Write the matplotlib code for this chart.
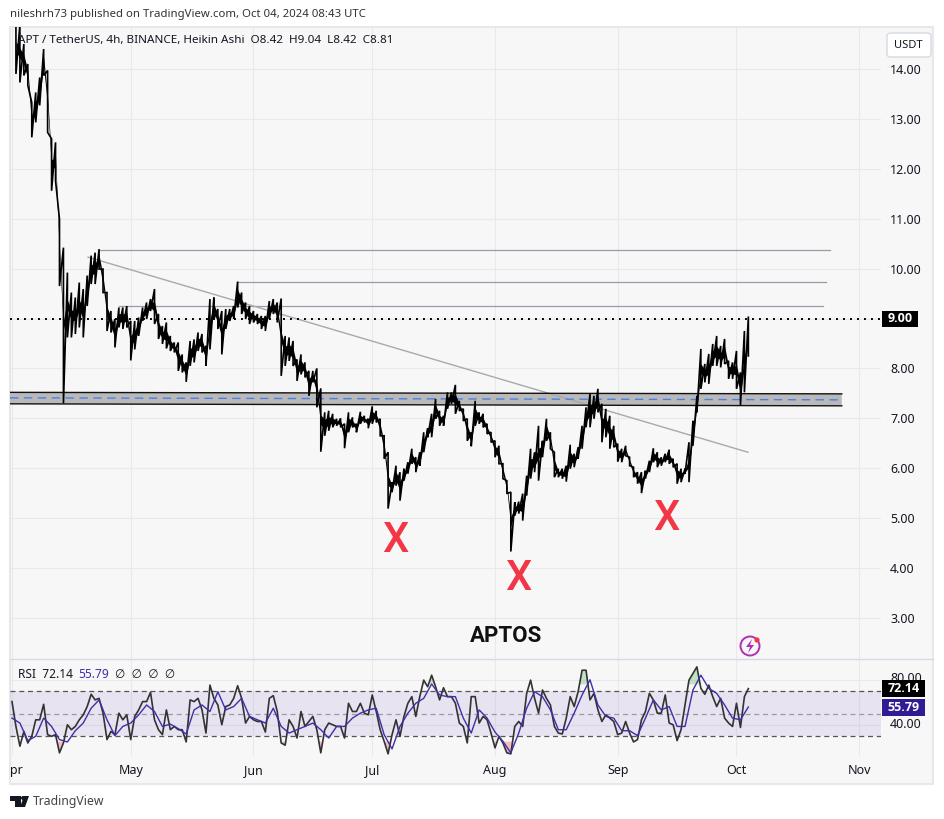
import numpy as np
import matplotlib
matplotlib.use("Agg")
from matplotlib import pyplot as plt
from matplotlib.patches import Rectangle, Polygon, Ellipse, FancyBboxPatch
from matplotlib.transforms import Bbox

plt.rcParams['font.family'] = ['Noto Sans', 'DejaVu Sans']

# days counted from Apr 1
highs = [15.0,14.9,14.5,14.1,13.33,13.53,13.83,14.4,13.97,12.6,
         12.53,10.99,10.42,9.92,9.52,9.42,9.72,9.59,9.86,10.26,
         10.32,10.39,9.99,9.52,9.15,8.99,9.22,9.22,9.25,8.95,
         8.95,9.02,9.22,9.32,9.39,9.59,9.09,8.85,8.92,8.65,
         8.52,8.52,8.28,8.12,8.55,8.58,8.72,8.69,8.45,9.39,
         9.42,9.19,9.15,9.19,9.19,9.25,9.74,9.52,9.32,9.25,
         9.15,9.09,9.05,9.05,9.35,9.39,9.32,9.40,8.65,8.62,
         8.55,8.18,8.28,8.12,7.95,7.95,8.0,7.6,7.12,7.15,
         7.09,6.99,7.0,6.89,7.12,7.02,6.89,7.13,7.05,6.99,
         7.24,7.15,6.99,6.65,6.32,5.72,6.05,5.92,5.99,6.12,
         6.39,6.22,6.32,6.72,6.8,7.09,7.39,7.15,7.05,7.52,
         7.52,7.67,7.35,7.19,6.99,6.72,7.35,7.12,7.09,6.89,
         6.72,6.55,6.45,6.09,5.75,5.52,5.32,5.33,5.49,5.85,
         6.39,6.32,6.85,6.55,6.99,6.72,6.32,5.99,5.99,6.05,
         6.47,6.29,6.42,6.85,7.22,7.49,7.45,7.59,7.29,7.19,
         7.05,6.85,6.49,6.39,6.45,6.22,6.02,5.92,5.92,5.95,
         6.15,6.4,6.32,6.22,6.29,6.37,6.19,6.09,5.99,5.99,
         6.52,6.95,7.45,8.39,8.09,8.29,8.49,8.65,8.45,8.59,
         8.15,8.12,8.35,7.92,8.75,9.04]
lows = [13.9,13.73,13.87,13.67,12.63,12.93,13.27,13.87,12.73,11.56,
        11.76,9.65,7.30,8.62,8.62,8.69,8.82,8.62,9.25,9.69,
        9.69,9.99,9.52,8.75,8.72,8.42,8.82,8.79,8.82,8.16,
        8.38,8.65,8.95,8.99,9.15,8.89,8.59,8.49,8.40,8.35,
        8.32,7.95,7.92,7.73,8.05,8.12,8.35,8.32,8.05,8.38,
        8.99,8.79,8.28,8.79,8.95,8.99,9.22,9.09,8.99,8.89,
        8.92,8.89,8.79,8.75,8.99,9.09,8.92,7.85,8.05,8.15,
        8.05,7.75,7.88,7.82,7.45,7.72,7.22,6.33,6.65,6.75,
        6.82,6.85,6.82,6.4,6.72,6.82,6.72,6.89,6.92,6.8,
        6.89,6.92,6.65,6.19,5.19,5.52,5.65,5.35,5.75,5.89,
        6.09,5.92,6.05,6.32,6.62,6.62,6.99,6.85,6.85,7.19,
        7.29,7.09,7.15,6.95,6.55,6.44,6.85,6.89,6.82,6.69,
        6.52,6.22,6.09,5.79,5.49,4.33,5.05,5.09,4.95,5.45,
        5.79,5.92,5.75,6.22,6.55,6.39,5.82,5.82,5.79,5.73,
        5.99,6.02,6.19,6.39,6.82,6.82,6.99,7.12,6.52,6.62,
        6.39,6.42,6.13,6.12,6.25,6.05,5.82,5.69,5.5,5.79,
        5.92,6.12,6.02,6.05,6.12,6.09,6.02,5.69,5.72,5.89,
        5.72,6.45,7.12,7.59,7.72,7.69,8.05,8.05,8.02,8.09,
        7.79,7.79,7.59,7.25,7.52,8.25]

rsi = [60.6,38.5,20.9,34.1,23.8,29.7,44.4,44.4,58.2,31.2,
       29.7,31.2,15,23.8,40,35.6,38.5,44.4,48.8,56.2,
       67.1,62.1,63.5,50.3,26.8,34.1,31.2,50.3,44.4,48.8,
       26.8,47.4,53.2,60.6,60.6,68.8,44.4,35.6,31.2,53.2,
       35.6,38.5,35.6,35.6,24.7,62.1,60.6,63.5,53.2,32.6,
       75.3,63.5,57.6,40,56.2,57.6,63.5,74.7,63.5,41.5,
       47.4,44.4,42.9,42.9,33.5,63.5,65.9,51.8,23.8,21.8,
       44.4,38.5,28.2,51.8,38.5,42.9,47.4,35.6,15,35.6,
       41.5,40,38.5,38.5,28.2,59.1,51.8,51.8,59.1,50.3,
       48.8,66.5,51.8,35.6,25.3,14.1,31.2,44.4,29.7,47.4,
       59.1,65,47.4,65,79.7,73.8,84.1,73.8,62.1,72.9,
       65,65,59.1,41.5,38.5,23.8,65,65,41.5,47.4,
       44.4,32.6,19.4,29.7,23.8,15,14.1,38.5,42.9,38.5,
       67.9,79.7,63.5,50.3,70.9,63.5,57.6,38.5,32.6,31.8,
       45.9,65,56.2,69.4,88.5,88.5,62.1,67.9,53.2,42.9,
       48.8,45.9,42.9,31.2,32.6,42.9,32.6,24.7,26.8,44.4,
       51.8,67.9,62.1,50.3,50.3,66.5,41.5,40,25.9,35.6,
       57.6,79.7,85.6,91.5,72.4,67.1,75.3,65,56.2,63.5,
       45.9,41.5,38.5,59.1,37.6,65,72.14]
# rsi moving average, read every 2 days
rsi_ma = [45.9,41.5,25.9,29.7,45.9,38.5,26.8,24.7,34.7,41.5,
          54.7,62.1,44.4,30.3,38.5,41.5,48.8,57.6,51.8,38.5,
          40.6,36.5,31.8,53.2,57.6,51.8,69.4,53.2,56.2,63.5,
          47.4,44.4,41.5,54.7,38.5,32.6,35.6,38.5,41.5,35.6,
          28.2,38.5,38.5,45.9,50.3,53.2,54.7,31.2,18.5,38.5,
          50.3,59.1,63.5,76.2,66.5,65,65,45.9,32.6,53.2,
          45.9,33.5,25.3,15,32.6,54.7,69.4,65,53.2,35.6,
          35.6,50.3,66.5,80,57.6,47.4,45.9,34.7,34.7,30.3,
          45.9,62.1,53.2,56.2,38.5,38.5,70.9,84.1,72.4,67.9,
          57.6,45.9,44.4,55.79]

price_ticks = [3,4,5,6,7,8,9,10,11,12,13,14]
month_days = [0,30,61,91,122,153,183,214]
month_labels = ["Apr","May","Jun","Jul","Aug","Sep","Oct","Nov"]

# resistance lines: start day, end day, price
resist_start = [21.7,56.8,27.0]
resist_end = [206.6,205.6,204.8]
resist_price = [10.37,9.73,9.25]
trend_days = [19.2,185.9]
trend_price = [10.23,6.32]
zone_days = [-0.5,209.6]
zone_top = [7.52,7.49]
zone_bottom = [7.29,7.25]
zone_mid = [7.41,7.37]

W, H = 945, 819
TEXT = "#131722"
GRID = "#e9e9ea"

def fx(x):
    return x / W

def fy(y):
    return 1 - y / H

def make_axes(left, top, right, bottom):
    return fig.add_axes([fx(left), fy(bottom), (right - left) / W, (bottom - top) / H])

def circle(x, y, r, **kw):
    fig.add_artist(Ellipse((fx(x), fy(y)), 2 * r / W, 2 * r / H, transform=fig.transFigure, **kw))

fig = plt.figure(figsize=(W / 100, H / 100), dpi=100, facecolor="white")

# chart background, under the axes
fig.add_artist(Rectangle((fx(10), fy(784)), 923 / W, 757 / H, transform=fig.transFigure,
                         facecolor="#f7f7f7", edgecolor="#e8e8ea", lw=1.5, zorder=-2))

ax = make_axes(10, 27, 881, 658)
ax.set_facecolor("none")
ax.set_xlim(-0.5, 219.5)
ax.set_ylim(14 - (658 - 69) / 49.9, 14 + (69 - 27) / 49.9)

days = np.arange(1, len(highs) + 1)
xs = np.repeat(days, 2)
ys = np.column_stack([highs, lows]).ravel()

ax.set_yticks(price_ticks, ["" if p == 9 else f"{p:.2f}" for p in price_ticks])
ax.set_xticks(month_days, [""] * len(month_days))
ax.grid(True, color=GRID, lw=0.8)
ax.set_axisbelow(True)
ax.yaxis.tick_right()
ax.tick_params(length=0, labelsize=9, labelcolor=TEXT, pad=6.5)
for s in ax.spines.values():
    s.set_visible(False)

# support zone
zone = Polygon([[zone_days[0], zone_top[0]], [zone_days[1], zone_top[1]],
                [zone_days[1], zone_bottom[1]], [zone_days[0], zone_bottom[0]]],
               facecolor="#b9b9b9", edgecolor="none", zorder=2)
ax.add_patch(zone)
ax.plot(zone_days, zone_top, color="#111111", lw=1, zorder=2.5)
ax.plot(zone_days, zone_bottom, color="#111111", lw=1, zorder=2.5)
ax.plot(zone_days, zone_mid, color="#4d7fe8", lw=1, dashes=(6, 4), zorder=2.6)

for a, b, p in zip(resist_start, resist_end, resist_price):
    ax.plot([a, b], [p, p], color="#9a9aa8", lw=0.9, zorder=2)
ax.plot(trend_days, trend_price, color="#a8a8ae", lw=1, zorder=2)

# wicks plus a solid body in the middle of each day's range
highs_arr = np.array(highs)
lows_arr = np.array(lows)
mids = (highs_arr + lows_arr) / 2
half = np.minimum((highs_arr - lows_arr) * 0.2, 0.1)
ax.plot(xs, ys, color="black", lw=1.2, solid_joinstyle="miter", zorder=3)
ax.fill_between(days, mids - half, mids + half, color="black", lw=0, zorder=3)
ax.axhline(9.0, color="black", lw=1.4, dashes=(1, 2.6), zorder=2.8)

# rsi pane
ax2 = make_axes(10, 660, 881, 756)
ax2.set_facecolor("none")
ax2.set_xlim(-0.5, 219.5)
ax2.set_ylim(12.2, 97.6)
ax2.set_xticks(month_days, month_labels)
ax2.set_yticks([40, 80], ["", ""])
ax2.grid(True, color=GRID, lw=0.8)
ax2.set_axisbelow(True)
ax2.tick_params(length=0, labelsize=9, labelcolor=TEXT, pad=6)
for s in ax2.spines.values():
    s.set_visible(False)
ax2.axhspan(30, 70, facecolor="#7e57c2", alpha=0.12, zorder=1, lw=0)
for level in [70, 50, 30]:
    ax2.axhline(level, color="#9a9aa2" if level == 50 else "#555555", lw=0.9, dashes=(4, 3), zorder=1.5)

rsi_days = np.arange(len(rsi))
rsi_arr = np.array(rsi)
ax2.fill_between(rsi_days, 76, rsi_arr, where=rsi_arr > 76, interpolate=True, color="#4caf50", alpha=0.3, lw=0)
ax2.fill_between(rsi_days, 25, rsi_arr, where=rsi_arr < 25, interpolate=True, color="#f23645", alpha=0.3, lw=0)
ax2.plot(rsi_days, rsi, color="#333333", lw=1.2, zorder=3)
ax2.plot(np.arange(0, 2 * len(rsi_ma), 2), rsi_ma, color="#3f2fa8", lw=1, zorder=3.2)

clip = Bbox([[10, 0], [933, H]])
for lab in ax2.get_xticklabels():
    lab.set_clip_box(clip)
    lab.set_clip_on(True)

# separator between the panes
fig.add_artist(plt.Line2D([fx(10), fx(933)], [fy(659), fy(659)], color="#d6d9e3", lw=1))

# header texts
fig.text(fx(10), fy(14), "nileshrh73 published on TradingView.com, Oct 04, 2024 08:43 UTC",
         fontsize=8.2, color="#333333", va="center")
fig.text(fx(18), fy(41), "APT / TetherUS, 4h, BINANCE, Heikin Ashi  O8.42  H9.04  L8.42  C8.81",
         fontsize=8.4, color=TEXT, va="center")
fig.text(fx(18), fy(674), "RSI  72.14", fontsize=8.6, color=TEXT, va="center")
fig.text(fx(78), fy(674), "55.79", fontsize=8.6, color="#3f2fa8", va="center")
fig.text(fx(115), fy(674), "\u2205  \u2205  \u2205  \u2205", fontsize=8.6, color=TEXT, va="center")

# X marks and the title
for px, py in [(395, 540), (518, 579), (666, 518)]:
    fig.text(fx(px), fy(py), "X", fontsize=30, color="#f23645", ha="center", va="center",
             family="Roboto", weight="medium")
fig.text(fx(506), fy(636), "APTOS", fontsize=16, color="#111111", ha="center", va="center",
         family="Roboto", weight="bold")

# price scale labels
def price_tag(x0, x1, y0, y1, txt, color):
    fig.add_artist(Rectangle((fx(x0), fy(y1)), (x1 - x0) / W, (y1 - y0) / H,
                             transform=fig.transFigure, facecolor=color, edgecolor="none", zorder=5))
    fig.text(fx((x0 + x1) / 2), fy((y0 + y1) / 2), txt, color="white", fontsize=9,
             family="Open Sans", weight="bold", ha="center", va="center", zorder=6)

fig.text(fx(890), fy(678), "80.00", fontsize=9, color=TEXT, va="center", zorder=4)
fig.text(fx(890), fy(725), "40.00", fontsize=9, color=TEXT, va="center")
price_tag(882, 918, 311, 327, "9.00", "black")
price_tag(882, 925, 680, 697, "72.14", "black")
price_tag(882, 925, 699, 716, "55.79", "#311b92")

# USDT button
fig.add_artist(FancyBboxPatch((fx(887), fy(57)), 44 / W, 24 / H, boxstyle="round,pad=0,rounding_size=0.004",
                              transform=fig.transFigure, facecolor="white", edgecolor="#d6d9e3", lw=1))
fig.text(fx(908), fy(45), "USDT", fontsize=8, color=TEXT, ha="center", va="center")

# small purple icon
circle(750, 646, 9.5, facecolor="none", edgecolor="#b02fb8", lw=1.4)
bolt = [(752, 639), (746, 647), (750, 647), (748, 653), (754, 645), (750, 645)]
fig.add_artist(Polygon([(fx(a), fy(b)) for a, b in bolt], transform=fig.transFigure,
                       facecolor="#b02fb8", edgecolor="none"))
circle(757, 640, 2.6, facecolor="#f23645", edgecolor="none")

# TradingView logo
logo = [[(10, 796), (21, 796), (21, 807), (15, 807), (15, 801), (10, 801)],
        [(24, 796), (29, 796), (25, 807), (20, 807)]]
for part in logo:
    fig.add_artist(Polygon([(fx(a), fy(b)) for a, b in part], transform=fig.transFigure,
                           facecolor="#131722", edgecolor="none"))
circle(23, 798, 2, facecolor="#131722", edgecolor="none")
fig.text(fx(33), fy(801), "TradingView", fontsize=8.8, color="#444444", va="center")

fig.savefig("out.png", dpi=100)
